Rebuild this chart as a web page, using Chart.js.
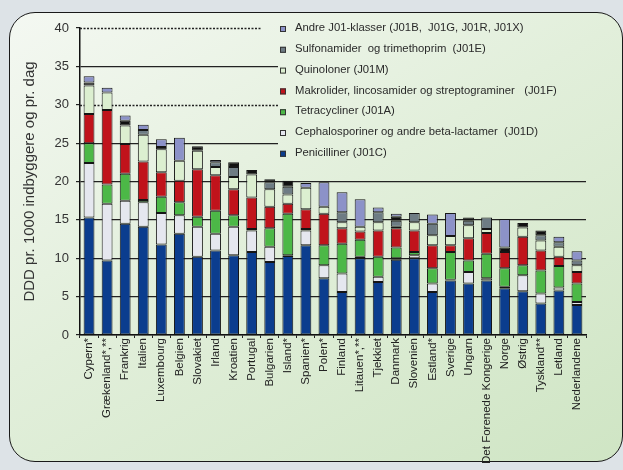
<!DOCTYPE html>
<html>
<head>
<meta charset="utf-8">
<script src="https://cdn.jsdelivr.net/npm/chart.js@4.4.0/dist/chart.umd.min.js"></script>
<style>
  html, body { margin: 0; padding: 0; width: 623px; height: 470px; overflow: hidden; background: #dde3e7; }
  #panel {
    position: absolute; left: 9px; top: 12px; width: 612px; height: 448px;
    border: 1.5px solid #1a1a1a; border-radius: 26px;
    background: linear-gradient(150deg, #f4f8f2 0%, #e2efdb 45%, #cfe5c4 100%);
  }
  #chart { position: absolute; left: 0; top: 0; }
</style>
</head>
<body>
<div id="panel"></div>
<canvas id="chart" width="623" height="470"></canvas>
<script>
const countries = ['Cypern*', 'Grækenland*,**', 'Frankrig', 'Italien', 'Luxembourg', 'Belgien', 'Slovakiet',
    'Irland', 'Kroatien', 'Portugal', 'Bulgarien', 'Island*', 'Spanien*', 'Polen*', 'Finland', 'Litauen*,**',
    'Tjekkiet', 'Danmark', 'Slovenien', 'Estland*', 'Sverige', 'Ungarn', 'Det Forenede Kongerige', 'Norge',
    'Østrig', 'Tyskland**', 'Letland', 'Nederlandene'];

// DDD pr. 1000 indbyggere og pr. dag, per stofgruppe (nederst -> øverst)
const penicilliner = [15.3, 9.7, 14.5, 14.1, 11.8, 13.2, 10.2, 11.0, 10.4, 10.8, 9.5, 10.3, 11.7, 7.4, 5.6, 10.0, 6.9, 9.8, 10.0, 5.6, 7.1, 6.7, 7.1, 6.1, 5.7, 4.1, 5.8, 3.9];
const cephalosporiner = [7.1, 7.4, 3.0, 3.2, 4.1, 2.4, 3.9, 2.2, 3.7, 2.8, 2.0, 0.1, 1.9, 1.7, 2.4, 0.2, 0.7, 0.2, 0.4, 1.1, 0.1, 1.5, 0.3, 0.2, 2.1, 1.3, 0.4, 0.4];
const tetracycliner = [2.6, 2.5, 3.5, 0.3, 2.1, 1.7, 1.3, 3.0, 1.5, 0.2, 2.4, 5.4, 0.2, 2.6, 3.9, 2.2, 2.6, 1.4, 0.4, 2.0, 3.6, 1.5, 3.2, 2.4, 1.3, 3.0, 2.8, 2.4];
const makrolider = [3.8, 9.7, 3.9, 5.0, 3.2, 2.8, 6.2, 4.6, 3.4, 4.1, 2.8, 1.3, 2.6, 4.1, 2.0, 1.1, 3.4, 2.5, 2.8, 3.0, 0.9, 2.9, 2.7, 2.1, 3.7, 2.6, 1.2, 1.5];
const quinoloner = [3.7, 2.3, 2.4, 3.5, 3.0, 2.6, 2.4, 1.1, 1.6, 3.0, 2.3, 1.2, 2.8, 0.9, 0.8, 0.6, 1.1, 0.2, 1.1, 1.3, 1.2, 1.7, 0.5, 0, 1.2, 1.3, 1.3, 0.9];
const sulfonamider = [0, 0, 0, 0.6, 0, 0, 0, 0.6, 1.3, 0, 0.9, 1.0, 0, 0, 1.3, 0, 1.3, 0.8, 1.2, 1.5, 0, 0.6, 1.5, 0, 0, 0.7, 0.6, 0.6];
const ukendt = [0.4, 0, 0.6, 0, 0.3, 0, 0.6, 0, 0.6, 0.6, 0.4, 0.8, 0, 0, 0, 0, 0, 0.5, 0, 0, 0, 0.4, 0, 0.6, 0.6, 0.6, 0, 0];
const andre = [0.8, 0.6, 0.7, 0.7, 1.0, 3.0, 0, 0.3, 0, 0, 0, 0, 0.6, 3.2, 2.6, 3.6, 0.6, 0.4, 0, 1.2, 3.0, 0, 0, 3.7, 0, 0, 0.7, 1.2];

const yTicks = [0, 5, 10, 15, 20, 25, 30, 35, 40];
const dottedAt = [30, 40];

const FONT = '"Liberation Sans", Arial, sans-serif';

// the black pieces have no legend entry (empty label)
const series = [
    { label: 'Penicilliner (J01C)', data: penicilliner, color: '#0b3d8e' },
    { label: 'Cephalosporiner og andre beta-lactamer  (J01D)', data: cephalosporiner, color: '#e5e7ef' },
    { label: 'Tetracycliner (J01A)', data: tetracycliner, color: '#4cb847' },
    { label: 'Makrolider, lincosamider og streptograminer   (J01F)', data: makrolider, color: '#c0131b' },
    { label: 'Quinoloner (J01M)', data: quinoloner, color: '#dcefd0' },
    { label: 'Sulfonamider  og trimethoprim  (J01E)', data: sulfonamider, color: '#6e7c84' },
    { label: '', data: ukendt, color: '#111111' },
    { label: 'Andre J01-klasser (J01B,  J01G, J01R, J01X)', data: andre, color: '#8c92c8' }
];

// Legend drawn inside the plot, hiding the grid behind it
const sideLegend = {
    id: 'sideLegend',
    beforeDatasetsDraw(chart) {
        const { ctx, chartArea } = chart;
        const y = chart.scales.y;
        ctx.save();
        ctx.strokeStyle = '#222';
        ctx.lineWidth = 1.5;
        ctx.setLineDash([2, 1.5]);
        dottedAt.forEach(v => {
            const py = Math.round(y.getPixelForValue(v)) + 0.5;
            ctx.beginPath();
            ctx.moveTo(chartArea.left, py);
            ctx.lineTo(chartArea.right, py);
            ctx.stroke();
        });
        ctx.restore();
        ctx.clearRect(262, 14, chartArea.right - 260, 22);
        ctx.clearRect(278, 36, chartArea.right - 276, 126);
    },
    afterDraw(chart) {
        const { ctx } = chart;
        const items = series.filter(s => s.label).reverse();
        ctx.save();
        ctx.font = '11.3px ' + FONT;
        ctx.textBaseline = 'middle';
        items.forEach((s, i) => {
            const cy = 28 + i * 20.8;
            ctx.fillStyle = s.color;
            ctx.fillRect(280, cy - 2, 6, 6);
            ctx.strokeStyle = '#333';
            ctx.lineWidth = 1;
            ctx.strokeRect(280.5, cy - 1.5, 5, 5);
            ctx.fillStyle = '#2a2a2a';
            ctx.fillText(s.label, 295, cy);
        });
        ctx.restore();
    }
};

const ctx = document.getElementById('chart').getContext('2d');
new Chart(ctx, {
    type: 'bar',
    data: {
        labels: countries,
        datasets: series.map(s => ({
            label: s.label,
            data: s.data,
            backgroundColor: s.color,
            borderColor: '#151515',
            borderWidth: 1,
            borderSkipped: false
        }))
    },
    options: {
        responsive: false,
        animation: false,
        layout: { padding: { left: 10, top: 28, right: 37, bottom: 0 } },
        datasets: { bar: { barPercentage: 0.6, categoryPercentage: 1 } },
        plugins: { legend: { display: false }, tooltip: { enabled: false } },
        scales: {
            x: {
                stacked: true,
                grid: { drawOnChartArea: false, tickLength: 3, tickColor: '#222' },
                border: { color: '#111', width: 1.5 },
                ticks: {
                    autoSkip: false, minRotation: 90, maxRotation: 90, padding: 0,
                    color: '#222', font: { family: FONT, size: 11.5 }
                },
                afterFit(scale) { scale.height = 135; }
            },
            y: {
                stacked: true,
                min: 0,
                max: 40,
                afterBuildTicks(scale) { scale.ticks = yTicks.map(v => ({ value: v })); },
                grid: {
                    color: c => (dottedAt.includes(c.tick && c.tick.value) ? 'rgba(0,0,0,0)' : '#222'),
                    tickColor: '#222',
                    tickLength: 4,
                    lineWidth: 1.2
                },
                border: { color: '#111', width: 1.5 },
                ticks: { padding: 7, color: '#333', font: { family: FONT, size: 13 } },
                title: {
                    display: true,
                    text: 'DDD pr. 1000 indbyggere og pr. dag',
                    color: '#333',
                    font: { family: FONT, size: 15 },
                    padding: { top: 11, bottom: 0 }
                },
                afterFit(scale) { scale.width = 70; }
            }
        }
    },
    plugins: [sideLegend]
});
</script>
</body>
</html>
